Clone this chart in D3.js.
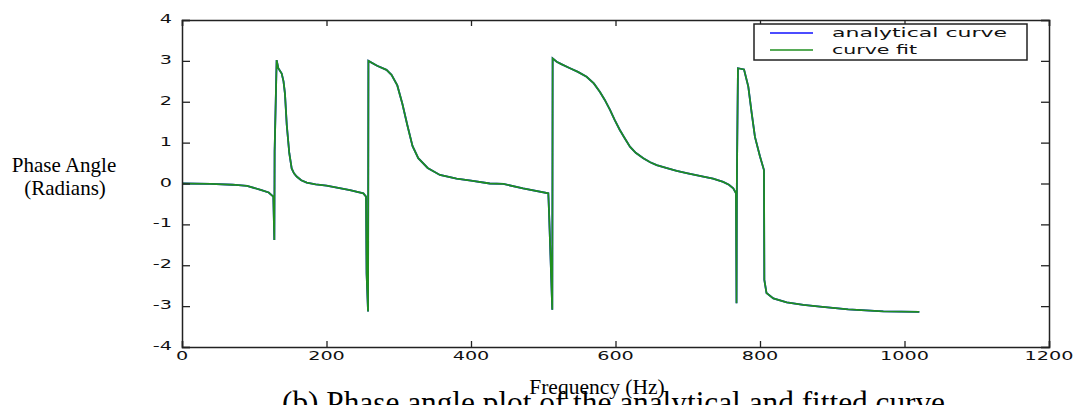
<!DOCTYPE html>
<html>
<head>
<meta charset="utf-8">
<script src="https://cdn.jsdelivr.net/npm/d3@7"></script>
<style>
  html, body { margin: 0; padding: 0; background: #fff; }
  svg { display: block; }
</style>
</head>
<body>
<svg id="chart" width="1078" height="405"></svg>
<script>
// ---- data ----
const frequency = [0, 40, 70, 90, 110, 120, 126.4, 127.8, 128.2, 131, 133.3, 138, 140.5, 142.5, 145, 148.5, 151.8, 155, 158.7, 165, 172.6, 185, 200, 232.5, 251, 254.7, 255.5, 257.5, 258, 270, 283, 290, 298, 305, 312, 319, 327, 340, 357, 380, 400, 426, 444.7, 472, 507, 508, 512.5, 513, 518.6, 525, 537, 548, 560, 570, 578.5, 585, 592.4, 599, 606, 613, 620, 628, 638.5, 648, 657, 670, 684.7, 700, 721.5, 735, 749, 757, 763, 766.8, 767.5, 768, 769.5, 777.9, 783.8, 788.5, 793, 800, 805.5, 806, 809, 818.5, 837, 860, 883, 922, 970.7, 1020.5];
const analyticalPhase = [0, -0.01, -0.03, -0.06, -0.16, -0.22, -0.32, -1.38, 0.78, 3.02, 2.82, 2.69, 2.5, 2.2, 1.43, 0.74, 0.37, 0.25, 0.17, 0.08, 0.02, -0.02, -0.05, -0.16, -0.24, -0.32, -2.2, -3.13, 3.0, 2.88, 2.78, 2.66, 2.4, 1.95, 1.42, 0.92, 0.62, 0.38, 0.21, 0.12, 0.07, 0.0, -0.01, -0.12, -0.24, -0.69, -3.09, 3.06, 2.98, 2.92, 2.82, 2.73, 2.61, 2.45, 2.24, 2.05, 1.8, 1.55, 1.31, 1.1, 0.9, 0.75, 0.62, 0.52, 0.45, 0.38, 0.31, 0.25, 0.17, 0.12, 0.04, -0.03, -0.12, -0.24, -2.93, 0.08, 2.82, 2.79, 2.37, 1.72, 1.14, 0.66, 0.33, -2.36, -2.68, -2.81, -2.91, -2.97, -3.01, -3.08, -3.13, -3.14];
const fitPhase = [0, -0.01, -0.03, -0.06, -0.16, -0.22, -0.32, -1.38, 0.78, 3.02, 2.82, 2.69, 2.5, 2.2, 1.43, 0.74, 0.37, 0.25, 0.17, 0.08, 0.02, -0.02, -0.05, -0.16, -0.24, -0.32, -2.2, -3.13, 3.0, 2.88, 2.78, 2.66, 2.4, 1.95, 1.42, 0.92, 0.62, 0.38, 0.21, 0.12, 0.07, 0.0, -0.01, -0.12, -0.24, -0.69, -3.09, 3.06, 2.98, 2.92, 2.82, 2.73, 2.61, 2.45, 2.24, 2.05, 1.8, 1.55, 1.31, 1.1, 0.9, 0.75, 0.62, 0.52, 0.45, 0.38, 0.31, 0.25, 0.17, 0.12, 0.04, -0.03, -0.12, -0.24, -2.93, 0.08, 2.82, 2.79, 2.37, 1.72, 1.14, 0.66, 0.33, -2.36, -2.68, -2.81, -2.91, -2.97, -3.01, -3.08, -3.13, -3.14];
const xTicks = [0, 200, 400, 600, 800, 1000, 1200];
const yTicks = [-4, -3, -2, -1, 0, 1, 2, 3, 4];
const seriesNames = ["analytical curve", "curve fit"];
const seriesColors = ["#1010ff", "#1f8f1f"];

// ---- layout ----
const L = 182, R = 1049, T = 20, B = 347;
const svg = d3.select("#chart");
const x = d3.scaleLinear().domain([0, 1200]).range([L, R]);
const y = d3.scaleLinear().domain([-4, 4]).range([B, T]);
const axisColor = "#222";

// curves
const line = d3.line().x(d => x(d[0])).y(d => y(d[1]));
const series = [
  d3.zip(frequency, analyticalPhase),
  d3.zip(frequency, fitPhase)
];
series.forEach((s, i) => {
  svg.append("path").datum(s)
    .attr("d", line)
    .attr("fill", "none")
    .attr("stroke", seriesColors[i])
    .attr("stroke-width", 1.8)
    .attr("stroke-linejoin", "miter");
});

// axes with inward ticks on all four sides
svg.append("g").attr("transform", `translate(0,${B})`)
  .call(d3.axisBottom(x).tickValues(xTicks).tickSize(-6).tickFormat(""));
svg.append("g").attr("transform", `translate(0,${T})`)
  .call(d3.axisTop(x).tickValues(xTicks).tickSize(-6).tickFormat(""));
svg.append("g").attr("transform", `translate(${L},0)`)
  .call(d3.axisLeft(y).tickValues(yTicks).tickSize(-8).tickFormat(""));
svg.append("g").attr("transform", `translate(${R},0)`)
  .call(d3.axisRight(y).tickValues(yTicks).tickSize(-8).tickFormat(""));
svg.selectAll(".domain").attr("stroke", axisColor).attr("stroke-width", 1.5);
svg.selectAll(".tick line").attr("stroke", axisColor).attr("stroke-width", 1.3);

// tick labels (wide, low font like the original)
const tickFont = "'DejaVu Sans', sans-serif";
xTicks.forEach(v => {
  svg.append("text")
    .attr("transform", `translate(${x(v)},359.5) scale(1.6,1)`)
    .attr("text-anchor", "middle")
    .attr("font-family", tickFont).attr("font-size", 12)
    .attr("fill", "#111")
    .text(String(v));
});
yTicks.forEach(v => {
  svg.append("text")
    .attr("transform", `translate(172,${y(v) + 3}) scale(1.6,1)`)
    .attr("text-anchor", "end")
    .attr("font-family", tickFont).attr("font-size", 12)
    .attr("fill", "#111")
    .text(v < 0 ? "-" + Math.abs(v) : String(v));
});

// legend
const lg = svg.append("g");
lg.append("rect").attr("x", 754).attr("y", 24).attr("width", 273).attr("height", 36)
  .attr("fill", "#fff").attr("stroke", axisColor).attr("stroke-width", 1.5);
const legendY = [33, 50];
const legendLen = [175, 85];
seriesNames.forEach((name, i) => {
  lg.append("line").attr("x1", 770).attr("x2", 813)
    .attr("y1", legendY[i]).attr("y2", legendY[i])
    .attr("stroke", seriesColors[i]).attr("stroke-width", 1.6);
  lg.append("text").attr("x", 832).attr("y", legendY[i] + 3.5)
    .attr("font-family", tickFont).attr("font-size", 12)
    .attr("textLength", legendLen[i]).attr("lengthAdjust", "spacingAndGlyphs")
    .attr("fill", "#111")
    .text(name);
});

// axis titles
const serif = "'Liberation Serif', 'Times New Roman', serif";
const yt = svg.append("text").attr("font-family", serif).attr("font-size", 21)
  .attr("text-anchor", "middle").attr("fill", "#000");
yt.append("tspan").attr("x", 64).attr("y", 172).text("Phase Angle");
yt.append("tspan").attr("x", 65).attr("y", 195).text("(Radians)");

svg.append("text").attr("x", 597).attr("y", 394)
  .attr("font-family", serif).attr("font-size", 21.5)
  .attr("text-anchor", "middle").attr("fill", "#000")
  .text("Frequency (Hz)");

// caption (partially cut by the bottom edge)
svg.append("text").attr("x", 282).attr("y", 413)
  .attr("font-family", serif).attr("font-size", 31)
  .attr("textLength", 663).attr("lengthAdjust", "spacingAndGlyphs")
  .attr("fill", "#000")
  .text("(b) Phase angle plot of the analytical and fitted curve");
</script>
</body>
</html>
